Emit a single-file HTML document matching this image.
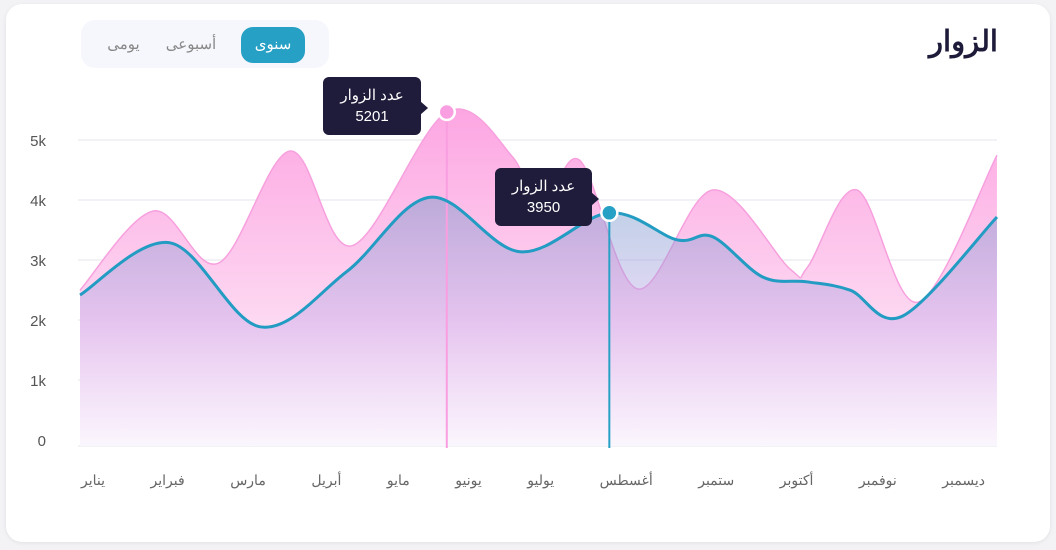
<!DOCTYPE html>
<html><head><meta charset="utf-8"><style>
body{margin:0;width:1056px;height:550px;background:#f3f3f6;font-family:"Liberation Sans","Noto Sans CJK SC",sans-serif;overflow:hidden}
.card{position:absolute;left:6px;top:4px;width:1044px;height:538px;background:#fff;border-radius:16px;box-shadow:0 1px 4px rgba(0,0,0,.08)}
.title{position:absolute;right:58px;top:24px;font-size:29px;font-weight:bold;color:#1e1b3a}
.tog{position:absolute;left:81px;top:20px;width:248px;height:48px;background:#f6f7fd;border-radius:14px}
.tb{position:absolute;top:7px;height:36px;line-height:36px;font-size:15px;color:#888;text-align:center}
.tb.on{background:#26a0c4;color:#fff;border-radius:12px}
.tip{position:absolute;background:#1f1b3a;color:#fff;border-radius:6px;text-align:center;font-size:15px;line-height:21px;padding-top:8px}
.tip:after{content:"";position:absolute;right:-7px;top:24px;border-left:8px solid #1f1b3a;border-top:7px solid transparent;border-bottom:7px solid transparent}
#xl{position:absolute;left:81px;width:904px;top:472px;display:flex;justify-content:space-between;font-size:14px;color:#666}
</style></head><body>
<div class="card"></div>
<div class="title">الزوار</div>
<div class="tog">
<div class="tb on" style="left:160px;width:64px">سنوى</div>
<div class="tb" style="left:75px;width:70px">أسبوعى</div>
<div class="tb" style="left:15px;width:55px">يومى</div>
</div>
<svg id="c" width="1056" height="550" style="position:absolute;left:0;top:0">
<defs>
<linearGradient id="gp" x1="0" y1="0" x2="0" y2="1"><stop offset="0" stop-color="#fda6e2"/><stop offset="0.6" stop-color="#fdd6f1"/><stop offset="1" stop-color="#fff"/></linearGradient>
<linearGradient id="gb" x1="0" y1="0" x2="0" y2="1"><stop offset="0" stop-color="rgba(110,150,200,0.45)"/><stop offset="0.5" stop-color="rgba(200,170,235,0.45)"/><stop offset="1" stop-color="rgba(240,225,250,0.3)"/></linearGradient>
</defs>
</svg>
<div id="xl"></div>
<div class="tip" style="left:323px;top:77px;width:98px;height:50px">عدد الزوار<br>5201</div>
<div class="tip" style="left:495px;top:168px;width:97px;height:50px">عدد الزوار<br>3950</div>
<script>
const months=["يناير","فبراير","مارس","أبريل","مايو","يونيو","يوليو","أغسطس","ستمبر","أكتوبر","نوفمبر","ديسمبر"];
const yTicks=[0,1,2,3,4,5];
const yTickLabels=["0","1k","2k","3k","4k","5k"];
const pinkT=[0,0.88,1.66,2.52,3.26,4.4,5.19,5.52,5.99,6.69,7.59,8.52,8.73,9.32,10.05,11];
const pinkV=[2.53,3.85,2.98,4.85,3.27,5.5,4.75,3.78,4.7,2.55,4.2,2.88,2.92,4.2,2.33,4.78];
const blueT=[0,1.08,2.16,3.2,4.2,5.28,6.35,7.16,7.59,8.19,8.72,9.24,9.87,11];
const blueV=[2.45,3.32,1.92,2.84,4.08,3.17,3.82,3.37,3.42,2.75,2.67,2.53,2.1,3.75];
const markers=[{t:4.4,v:5.5,c:"#f99ee0"},{t:6.35,v:3.82,c:"#26a0c4"}];
const X=t=>80+t*83.36, Y=v=>442-v*60;
const s=document.getElementById('c'),NS="http://www.w3.org/2000/svg";
function mk(tag,a){const e=document.createElementNS(NS,tag);for(const k in a)e.setAttribute(k,a[k]);s.appendChild(e);return e;}
function path(T,V){const p=T.map((t,i)=>[X(t),Y(V[i])]);let d="M"+p[0];for(let i=0;i<p.length-1;i++){const a=p[i-1]||p[i],b=p[i],c=p[i+1],e=p[i+2]||c;d+=` C${b[0]+(c[0]-a[0])/6},${b[1]+(c[1]-a[1])/6} ${c[0]-(e[0]-b[0])/6},${c[1]-(e[1]-b[1])/6} ${c[0]},${c[1]}`;}return d;}
yTicks.forEach((v,i)=>{
 const g=mk('line',{x1:78,x2:997,y1:Y(v)-(v?2:-4),y2:Y(v)-(v?2:-4),stroke:"#f1f1f6","stroke-width":2});
 
 const t=mk('text',{x:46,y:Y(v)+4,"text-anchor":"end","font-size":15,fill:"#555"});t.textContent=yTickLabels[i];
 
});
const b0=Y(0)+4;
const pd=path(pinkT,pinkV),bd=path(blueT,blueV);
const pa=mk('path',{d:pd+` L${X(11)},${b0} L${X(0)},${b0} Z`,fill:"url(#gp)"});

const pl=mk('path',{d:pd,fill:"none",stroke:"#f7a0de","stroke-width":1.5});

const ba=mk('path',{d:bd+` L${X(11)},${b0} L${X(0)},${b0} Z`,fill:"url(#gb)"});

markers.forEach(m=>{const v=mk('line',{x1:X(m.t),x2:X(m.t),y1:Y(m.v),y2:b0+2,stroke:m.c,"stroke-width":2});
 });
const bl=mk('path',{d:bd,fill:"none",stroke:"#229cc2","stroke-width":3});

markers.forEach(m=>{const c=mk('circle',{cx:X(m.t),cy:Y(m.v),r:8,fill:m.c,stroke:"#fff","stroke-width":2.5});
 });
const xl=document.getElementById('xl');
months.forEach(m=>{const d=document.createElement('span');d.textContent=m;
 
 
 xl.appendChild(d);});
</script>
</body></html>
